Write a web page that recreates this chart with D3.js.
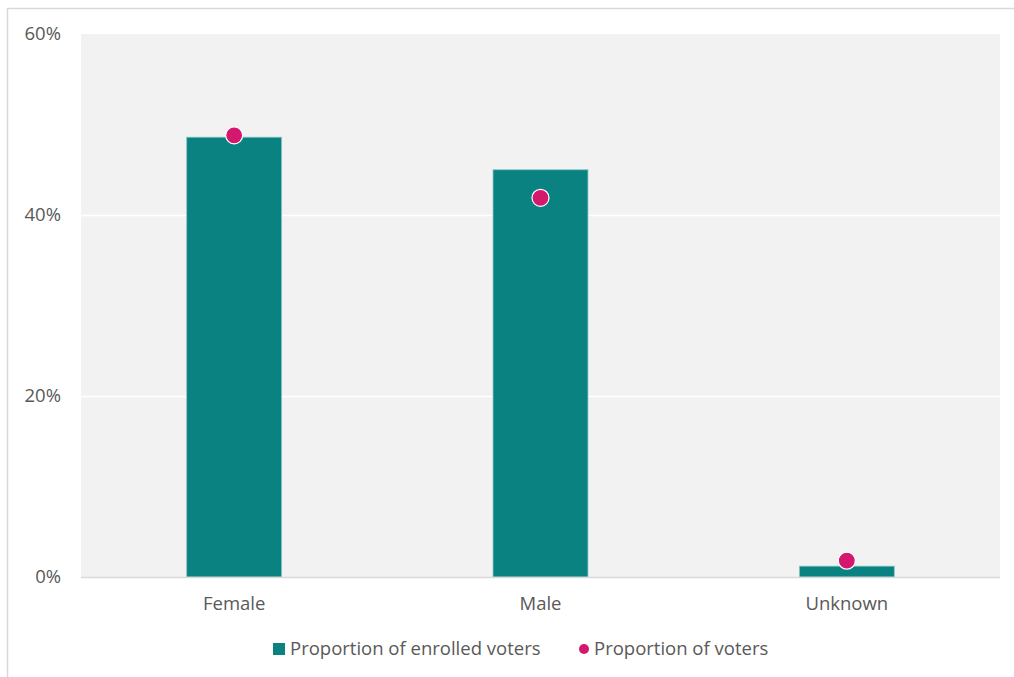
<!DOCTYPE html>
<html>
<head>
<meta charset="utf-8">
<script src="https://cdn.jsdelivr.net/npm/d3@7"></script>
<style>
  html, body { margin: 0; padding: 0; background: #fff; }
  svg { display: block; font-family: "Open Sans", "Liberation Sans", sans-serif; }
</style>
</head>
<body>
<svg id="chart" width="1014" height="677"></svg>
<script>
// Gender breakdown: enrolled voters vs. people who voted
const categories = ["Female", "Male", "Unknown"];
const enrolledShare = [48.6, 45.0, 1.2];
const voterShare = [48.8, 41.9, 1.8];
const yTicks = [0, 20, 40, 60];
const seriesNames = ["Proportion of enrolled voters", "Proportion of voters"];

const W = 1014, H = 677;
const margin = { top: 34, right: 14, bottom: 100, left: 81 };
const plotW = W - margin.left - margin.right;
const plotH = H - margin.top - margin.bottom;
const FONT = 18.5;
const TEXT = "#595959";

const svg = d3.select("#chart");

// outer frame
svg.append("rect")
  .attr("x", 7.5).attr("y", 8.5)
  .attr("width", W + 10).attr("height", H + 10)
  .attr("fill", "#fff").attr("stroke", "#d9d9d9").attr("stroke-width", 1.5);

const g = svg.append("g").attr("transform", `translate(${margin.left},${margin.top})`);

const x = d3.scaleBand().domain(categories).range([0, plotW]).paddingInner(0.69).paddingOuter(0.345);
const y = d3.scaleLinear().domain([0, 60]).range([plotH, 0]);

// plot background
g.append("rect").attr("width", plotW).attr("height", plotH).attr("fill", "#f2f2f2");

// horizontal gridlines
g.append("g")
  .selectAll("line")
  .data(yTicks.filter(d => d > 0 && d < 60))
  .join("line")
  .attr("x1", 0).attr("x2", plotW)
  .attr("y1", d => Math.round(y(d)) + 0.5).attr("y2", d => Math.round(y(d)) + 0.5)
  .attr("stroke", "#ffffff").attr("stroke-width", 1.5);

// y axis labels
const yAxis = d3.axisLeft(y).tickValues(yTicks).tickFormat(d => d + "%").tickSize(0).tickPadding(20);
const yAx = g.append("g").call(yAxis);
yAx.select(".domain").remove();
yAx.selectAll("text").attr("fill", TEXT).attr("font-size", FONT).attr("font-family", "Open Sans, Liberation Sans, sans-serif")
  .attr("dy", "0.28em");

// bars
g.append("g")
  .selectAll("rect")
  .data(categories)
  .join("rect")
  .attr("x", d => x(d))
  .attr("width", x.bandwidth())
  .attr("y", (d, i) => y(enrolledShare[i]))
  .attr("height", (d, i) => y(0) - y(enrolledShare[i]))
  .attr("fill", "#0a8281")
  .attr("stroke", "#8cc7c6").attr("stroke-width", 0.8);

// baseline
g.append("line")
  .attr("x1", 0).attr("x2", plotW)
  .attr("y1", plotH + 0.5).attr("y2", plotH + 0.5)
  .attr("stroke", "#d9d9d9").attr("stroke-width", 1.5);

// x axis labels
const xAxis = d3.axisBottom(x).tickSize(0).tickPadding(20);
const xAx = g.append("g").attr("transform", `translate(0,${plotH})`).call(xAxis);
xAx.select(".domain").remove();
xAx.selectAll("text").attr("fill", TEXT).attr("font-size", FONT).attr("font-family", "Open Sans, Liberation Sans, sans-serif");

// voter share markers
g.append("g")
  .selectAll("circle")
  .data(categories)
  .join("circle")
  .attr("cx", d => x(d) + x.bandwidth() / 2)
  .attr("cy", (d, i) => y(voterShare[i]))
  .attr("r", 8.5)
  .attr("fill", "#d3186d")
  .attr("stroke", "#ffffff").attr("stroke-width", 1.2);

// legend
const legend = svg.append("g").attr("transform", "translate(0,649)");
const l1 = legend.append("g").attr("transform", "translate(273,0)");
l1.append("rect").attr("x", 0).attr("y", -6).attr("width", 12).attr("height", 12).attr("fill", "#0a8281");
l1.append("text").attr("x", 17).attr("y", 0).attr("dy", "0.35em")
  .attr("fill", TEXT).attr("font-size", FONT).text(seriesNames[0]);
const l2 = legend.append("g").attr("transform", "translate(584,0)");
l2.append("circle").attr("cx", 0).attr("cy", 0).attr("r", 5).attr("fill", "#d3186d");
l2.append("text").attr("x", 10).attr("y", 0).attr("dy", "0.35em")
  .attr("fill", TEXT).attr("font-size", FONT).text(seriesNames[1]);
</script>
</body>
</html>
